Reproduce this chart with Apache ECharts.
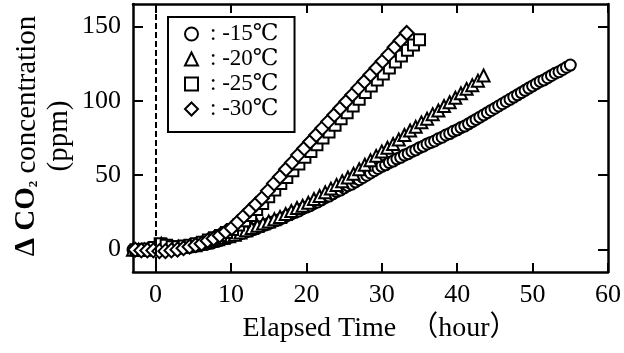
<!DOCTYPE html>
<html>
<head>
<meta charset="utf-8">
<script src="https://cdn.jsdelivr.net/npm/echarts@6/dist/echarts.min.js"></script>
<style>
html,body{margin:0;padding:0;background:#fff;}
#chart{width:624px;height:353px;}
</style>
</head>
<body>
<div id="chart"></div>
<script>
// Tick labels
const xTicks = [0, 10, 20, 30, 40, 50, 60];
const yTicks = [0, 50, 100, 150];
// Series names
const seriesNames = [': -15℃', ': -20℃', ': -25℃', ': -30℃'];
// [elapsed time (hour), ΔCO2 (ppm)]
const dataM15 = [[-3,0],[-2.5,0],[-2,0],[-1.5,-0.5],[-1,0],[-0.5,0],[0,0.5],[0.5,1],[1,0.5],[1.5,0.5],[2,0.5],[2.5,0.5],[3,1],[3.5,1],[4,1.5],[4.5,1.5],[5,2],[5.5,2.5],[6,3],[6.5,3.5],[7,4],[7.5,4.5],[8,5.5],[8.5,6],[9,7],[9.5,7.5],[10,8.5],[10.5,9.5],[11,10],[11.5,11],[12,12],[12.5,12.5],[13,13.5],[13.5,14.5],[14,15.5],[14.5,16.5],[15,17.5],[15.5,18.5],[16,19.5],[16.5,20.5],[17,21.5],[17.5,23],[18,24],[18.5,25],[19,26],[19.5,27.5],[20,28.5],[20.5,29.5],[21,31],[21.5,32],[22,33.5],[22.5,35],[23,36],[23.5,37.5],[24,39],[24.5,40],[25,41.5],[25.5,43],[26,44],[26.5,45.5],[27,47],[27.5,48.5],[28,50],[28.5,51.5],[29,53],[29.5,54.5],[30,56],[30.5,57],[31,58.5],[31.5,59.5],[32,61],[32.5,62],[33,63.5],[33.5,64.5],[34,66],[34.5,67],[35,68.5],[35.5,69.5],[36,71],[36.5,72],[37,73],[37.5,74.5],[38,75.5],[38.5,77],[39,78],[39.5,79.5],[40,80.5],[40.5,82],[41,83],[41.5,84.5],[42,86],[42.5,87.5],[43,89],[43.5,90.5],[44,92],[44.5,93.5],[45,95],[45.5,96.5],[46,98],[46.5,99.5],[47,101],[47.5,102.5],[48,104],[48.5,105.5],[49,107],[49.5,108.5],[50,110],[50.5,111.5],[51,113],[51.5,114],[52,115.5],[52.5,117],[53,118.5],[53.5,119.5],[54,121],[54.5,122.5],[55,124]];
const dataM20 = [[-3,0],[-2.25,0],[-1.5,0],[-0.75,0.5],[0,2],[0.75,4],[1.5,3],[2.25,2],[3,2],[3.75,2],[4.5,2.5],[5.25,3],[6,4],[6.75,5],[7.5,6],[8.25,7],[9,8],[9.75,9],[10.5,10],[11.25,11.5],[12,13],[12.75,14.5],[13.5,16],[14.25,17.5],[15,19],[15.75,20.5],[16.5,22],[17.25,24],[18,26],[18.75,28],[19.5,29.5],[20.25,31.5],[21,34],[21.75,36],[22.5,38.5],[23.25,41],[24,43.5],[24.75,46],[25.5,48.5],[26.25,51],[27,54],[27.75,57],[28.5,60],[29.25,63],[30,66],[30.75,68.5],[31.5,71],[32.25,74],[33,77],[33.75,80],[34.5,82.5],[35.25,85.5],[36,88],[36.75,91],[37.5,93.5],[38.25,96.5],[39,99],[39.75,102],[40.5,105],[41.25,108],[42,110.5],[42.75,113.5],[43.5,117]];
const dataM25 = [[-2.6,0],[-1.8,0],[-1.0,0.5],[-0.2,1.5],[0.6,4],[1.4,3],[2.2,2],[3.0,2],[3.8,2.5],[4.6,3],[5.4,4],[6.2,5],[7.0,6.5],[7.8,8],[8.6,9.5],[9.4,11.5],[10.2,13.5],[11.0,16.5],[11.8,19.5],[12.6,23],[13.4,27],[14.2,31],[15.0,35.5],[15.8,40],[16.6,44.5],[17.4,48.5],[18.2,53],[19.0,57.5],[19.8,62],[20.6,66],[21.4,70.5],[22.2,75],[23.0,79],[23.8,83.5],[24.6,88],[25.4,92],[26.2,96.5],[27.0,101],[27.8,105.5],[28.6,110],[29.4,114],[30.2,118],[31.0,122],[31.8,126],[32.6,130],[33.4,134],[34.2,137.5],[35.0,141]];
const dataM30 = [[-2.7,0],[-1.9,-0.5],[-1.1,-0.5],[-0.3,-0.5],[0.5,-1],[1.3,-1],[2.1,-0.5],[2.9,0],[3.7,1],[4.5,2],[5.3,3],[6.1,4],[6.9,6],[7.7,7.5],[8.5,9.5],[9.3,12],[10.1,14.5],[10.9,18.5],[11.7,22.5],[12.5,26.5],[13.3,30.5],[14.1,34.5],[14.9,39.5],[15.7,44.5],[16.5,49],[17.3,54],[18.1,58.5],[18.9,63.5],[19.7,68],[20.5,72.5],[21.3,77],[22.1,81.5],[22.9,86],[23.7,90.5],[24.5,95],[25.3,99.5],[26.1,104],[26.9,108.5],[27.7,113],[28.5,117.5],[29.3,122],[30.1,126.5],[30.9,131],[31.7,136],[32.5,140.5],[33.3,145.5]];

const serif = "'Liberation Serif','Times New Roman','DejaVu Serif','Noto Sans CJK JP',serif";
const chart = echarts.init(document.getElementById('chart'), null, {renderer: 'canvas'});

function mkSeries(name, data, symbol, size, withLine) {
  const s = {
    name: name, type: 'scatter', data: data, symbol: symbol, symbolSize: size,
    clip: false, animation: false,
    itemStyle: {color: '#fff', borderColor: '#000', borderWidth: 2, opacity: 1},
    emphasis: {disabled: true}
  };
  if (withLine) {
    s.markLine = {
      silent: true, symbol: ['none', 'none'], animation: false,
      label: {show: false},
      lineStyle: {color: '#000', width: 2, type: [6, 3]},
      data: [{xAxis: 0}]
    };
  }
  return s;
}

const axisLineStyle = {show: true, onZero: false, lineStyle: {color: '#000', width: 2.5}};

chart.setOption({
  backgroundColor: '#fff',
  animation: false,
  grid: {left: 133, top: 4, right: 14, bottom: 81, show: false},
  xAxis: [
    {type: 'value', min: -3, max: 60, position: 'bottom',
     axisLine: axisLineStyle,
     axisTick: {show: true, inside: true, length: 9, customValues: xTicks, lineStyle: {color: '#000', width: 2}},
     axisLabel: {show: true, customValues: xTicks, margin: 10, color: '#000', fontSize: 26, fontFamily: serif},
     splitLine: {show: false}},
    {type: 'value', min: -3, max: 60, position: 'top',
     axisLine: axisLineStyle,
     axisTick: {show: true, inside: true, length: 9, customValues: xTicks, lineStyle: {color: '#000', width: 2}},
     axisLabel: {show: false},
     splitLine: {show: false}}
  ],
  yAxis: [
    {type: 'value', min: -15, max: 165, position: 'left',
     axisLine: axisLineStyle,
     axisTick: {show: true, inside: true, length: 10, customValues: yTicks, lineStyle: {color: '#000', width: 2}},
     axisLabel: {show: true, customValues: yTicks, margin: 12, color: '#000', fontSize: 26, fontFamily: serif},
     splitLine: {show: false}},
    {type: 'value', min: -15, max: 165, position: 'right',
     axisLine: axisLineStyle,
     axisTick: {show: true, inside: true, length: 10, customValues: yTicks, lineStyle: {color: '#000', width: 2}},
     axisLabel: {show: false},
     splitLine: {show: false}}
  ],
  legend: {
    show: true, orient: 'vertical', left: 168, top: 17,
    padding: [5, 16, 11, 16], itemGap: 1, itemWidth: 13, itemHeight: 13,
    borderColor: '#000', borderWidth: 2, backgroundColor: '#fff',
    selectedMode: false,
    itemStyle: {color: '#fff', borderColor: '#000', borderWidth: 2},
    textStyle: {color: '#000', fontSize: 23, lineHeight: 24, fontFamily: serif, padding: [0, 0, 0, 7]},
    data: seriesNames
  },
  graphic: [
    {type: 'text', x: 43, y: 136, rotation: Math.PI / 2, silent: true,
     style: {
       text: '{b|Δ CO}{s|2}{n| concentration}\n{n|(ppm)}',
       align: 'center', verticalAlign: 'middle', fill: '#000',
       rich: {
         b: {fontSize: 29, fontWeight: 'bold', fontFamily: serif, lineHeight: 32, verticalAlign: 'middle'},
         s: {fontSize: 13, fontWeight: 'bold', fontFamily: serif, lineHeight: 32, verticalAlign: 'bottom', padding: [0, 0, 3, 0]},
         n: {fontSize: 29, fontFamily: serif, lineHeight: 32, verticalAlign: 'middle', align: 'center'}
       }
     }},
    {type: 'text', x: 380, y: 329, silent: true,
     style: {text: 'Elapsed Time　（hour）', align: 'center', verticalAlign: 'middle', fill: '#000', fontSize: 28, fontFamily: serif}}
  ],
  series: [
    mkSeries(seriesNames[0], dataM15, 'circle', 11, true),
    mkSeries(seriesNames[1], dataM20, 'triangle', 12, false),
    mkSeries(seriesNames[2], dataM25, 'rect', 11, false),
    mkSeries(seriesNames[3], dataM30, 'diamond', 14, false)
  ]
});
</script>
</body>
</html>
